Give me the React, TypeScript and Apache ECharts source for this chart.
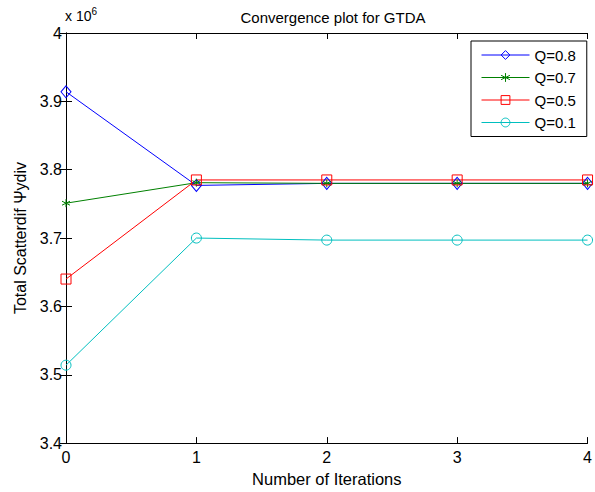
import React, { useEffect, useRef } from "react";
import * as echarts from "echarts";

const iterations = ["0", "1", "2", "3", "4"];
const q08 = [3914000, 3777000, 3780000, 3780000, 3780000];
const q07 = [3751000, 3781000, 3780000, 3780000, 3780000];
const q05 = [3640000, 3785000, 3785000, 3785000, 3785000];
const q01 = [3514000, 3700000, 3697000, 3697000, 3697000];
const seriesNames = ["Q=0.8", "Q=0.7", "Q=0.5", "Q=0.1"];
const yTicksMin = 3400000;
const yTicksMax = 4000000;
const yTickStep = 100000;

const FONT = "Liberation Sans, Arial, sans-serif";
const STAR = "path://M0,-5L0,5M-4.5,-2.5L4.5,2.5M-4.5,2.5L4.5,-2.5";

export default function App() {
  const ref = useRef<HTMLDivElement>(null);
  useEffect(() => {
    if (!ref.current) return;
    const chart = echarts.init(ref.current, null, { renderer: "svg" });
    const mk = (name: string, data: number[], color: string, symbol: string, size: any) => ({
      name,
      type: "line",
      data: data.map((v, i) => [i, v]),
      symbol,
      symbolSize: size,
      lineStyle: { color, width: 1 },
      itemStyle: { color: "rgba(0,0,0,0)", borderColor: color, borderWidth: 1 },
      emphasis: { disabled: true },
    });
    const tickLabelStyle = { color: "#000", fontFamily: FONT, fontSize: 16 };
    chart.setOption({
      animation: false,
      backgroundColor: "#fff",
      textStyle: { fontFamily: FONT },
      title: {
        text: "Convergence plot for GTDA",
        left: 328,
        textAlign: "center",
        top: 5,
        textStyle: { fontFamily: FONT, fontSize: 15, fontWeight: "normal", color: "#000" },
      },
      legend: {
        data: seriesNames.map((n) => ({ name: n })),
        orient: "vertical",
        left: 471,
        top: 41,
        itemWidth: 48,
        itemHeight: 11,
        itemGap: 7.5,
        padding: [6.5, 11, 6.5, 10],
        borderColor: "#000",
        borderWidth: 1,
        backgroundColor: "#fff",
        lineStyle: { width: 1 },
        itemStyle: { borderWidth: 1 },
        textStyle: { fontFamily: FONT, fontSize: 15, color: "#000" },
      },
      grid: { left: 66, right: 3, top: 33, bottom: 45, containLabel: false },
      xAxis: [
        {
          type: "value",
          min: 0,
          max: 4,
          interval: 1,
          name: "Number of Iterations",
          nameLocation: "middle",
          nameGap: 26,
          nameTextStyle: { fontFamily: FONT, fontSize: 16.5, color: "#000" },
          axisLine: { lineStyle: { color: "#000", width: 1 } },
          axisTick: { inside: true, length: 6, lineStyle: { color: "#000" } },
          axisLabel: { ...tickLabelStyle, margin: 6, formatter: (v: number) => iterations[v] ?? String(v) },
          splitLine: { show: false },
        },
        {
          type: "value",
          position: "top",
          min: 0,
          max: 4,
          interval: 1,
          axisLine: { lineStyle: { color: "#000", width: 1 } },
          axisTick: { inside: true, length: 6, lineStyle: { color: "#000" } },
          axisLabel: { show: false },
          splitLine: { show: false },
        },
      ],
      yAxis: [
        {
          type: "value",
          min: yTicksMin,
          max: yTicksMax,
          interval: yTickStep,
          name: "Total Scatterdif Ψydiv",
          nameLocation: "middle",
          nameGap: 37,
          nameTextStyle: { fontFamily: FONT, fontSize: 16, color: "#000" },
          axisLine: { lineStyle: { color: "#000", width: 1 } },
          axisTick: { inside: true, length: 6, lineStyle: { color: "#000" } },
          axisLabel: {
            ...tickLabelStyle,
            margin: 4,
            formatter: (v: number) => String(parseFloat((v / 1e6).toFixed(1))),
          },
          splitLine: { show: false },
        },
        {
          type: "value",
          position: "right",
          min: yTicksMin,
          max: yTicksMax,
          interval: yTickStep,
          axisLine: { lineStyle: { color: "#000", width: 1 } },
          axisTick: { inside: true, length: 6, lineStyle: { color: "#000" } },
          axisLabel: { show: false },
          splitLine: { show: false },
        },
      ],
      graphic: [
        {
          type: "text",
          left: 65,
          top: 6,
          style: {
            text: "x 10{s|6}",
            rich: { s: { fontSize: 10, fontFamily: FONT, fill: "#000", verticalAlign: "top", padding: [0, 0, 10, 0] } },
            font: `14px ${FONT}`,
            fill: "#000",
          },
        },
      ],
      series: [
        mk(seriesNames[0], q08, "#0000ff", "diamond", [10, 12]),
        mk(seriesNames[1], q07, "#008000", STAR, 8),
        mk(seriesNames[2], q05, "#ff0000", "rect", 10),
        mk(seriesNames[3], q01, "#00bfbf", "circle", 10),
      ],
    });
    return () => chart.dispose();
  }, []);
  return (
    <div
      ref={ref}
      style={{ position: "fixed", left: 0, top: 0, width: 595, height: 492, overflow: "hidden" }}
    />
  );
}
